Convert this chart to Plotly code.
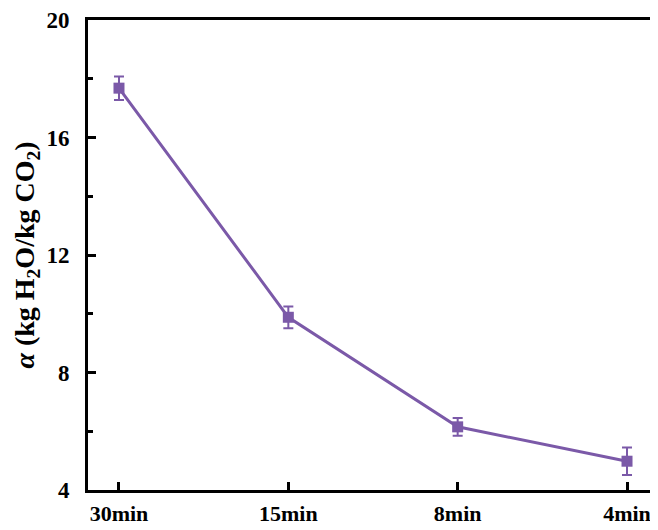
import plotly.graph_objects as go

categories = ["30min", "15min", "8min", "4min"]
alpha_values = [17.68, 9.88, 6.15, 4.98]
alpha_errors = [0.40, 0.37, 0.30, 0.47]
y_ticks = [4, 8, 12, 16, 20]

color = "#7B59A8"
font_family = "Liberation Serif, Times New Roman, serif"

fig = go.Figure()
fig.add_trace(go.Scatter(
    x=list(range(len(categories))),
    y=alpha_values,
    mode="lines+markers",
    line=dict(color=color, width=3),
    marker=dict(symbol="square", size=11, color=color),
    error_y=dict(type="data", array=alpha_errors, visible=True,
                 color=color, thickness=2, width=5),
    showlegend=False,
))

fig.update_layout(
    width=650, height=522,
    margin=dict(l=80, r=0, t=12, b=40),
    paper_bgcolor="white", plot_bgcolor="white",
    font=dict(family=font_family, size=22, color="black", weight="bold"),
    xaxis=dict(
        range=[-0.183, 3.183],
        tickmode="array",
        tickvals=list(range(len(categories))),
        ticktext=categories,
        showline=True, linewidth=3, linecolor="black", mirror=True,
        ticks="inside", ticklen=8, tickwidth=2.5, tickcolor="black",
        showgrid=False, zeroline=False,
        ticklabelstandoff=2,
        ticklabeloverflow="allow",
        tickfont=dict(family=font_family, size=22, weight="bold"),
    ),
    yaxis=dict(
        range=[4, 20],
        tickmode="array",
        tickvals=y_ticks,
        ticktext=[str(v) for v in y_ticks],
        showline=True, linewidth=3, linecolor="black", mirror=False,
        ticks="inside", ticklen=8, tickwidth=2.5, tickcolor="black",
        minor=dict(tickmode="array", tickvals=[6, 10, 14, 18],
                   ticks="inside", ticklen=5, tickwidth=2.5, tickcolor="black"),
        showgrid=False, zeroline=False,
        ticklabelstandoff=11,
        ticklabeloverflow="allow",
        tickfont=dict(family=font_family, size=23, weight="bold"),
        title=dict(
            text="<i>α</i> (kg H<sub>2</sub>O/kg CO<sub>2</sub>)",
            font=dict(family=font_family, size=28, weight="bold"),
            standoff=4,
        ),
    ),
)

fig.write_html("out.html")
